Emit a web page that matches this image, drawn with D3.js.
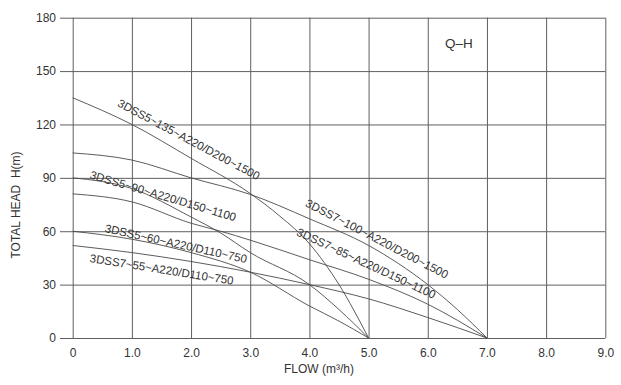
<!DOCTYPE html>
<html><head><meta charset="utf-8">
<script src="https://cdn.jsdelivr.net/npm/d3@7"></script>
<style>
body{margin:0;background:#fff}
svg{display:block;font-family:"Liberation Sans",Arial,Helvetica,sans-serif}
</style>
</head><body>
<svg id="chart" width="621" height="385"></svg>
<script>
// ---- data ----
const flowTicks = [0,1,2,3,4,5,6,7,8,9];
const flowTickLabels = ["0","1.0","2.0","3.0","4.0","5.0","6.0","7.0","8.0","9.0"];
const headTicks = [0,30,60,90,120,150,180];
const headTickLabels = ["0","30","60","90","120","150","180"];

const seriesNames = [
  "3DSS5~135~A220/D200~1500",
  "3DSS7~100~A220/D200~1500",
  "3DSS5~90~A220/D150~1100",
  "3DSS7~85~A220/D150~1100",
  "3DSS5~60~A220/D110~750",
  "3DSS7~55~A220/D110~750"
];
const flow5_135 = [0,1,2,3,3.5,4,4.5,5];
const head5_135 = [135,120,101,81.2,68.5,53,30,0];
const flow7_100 = [0,1,2,3,4,5,6,6.5,7];
const head7_100 = [104,100,90,80.7,67,52,30,16,0];
const flow5_90 = [0,1,2,2.5,3,4,4.5,5];
const head5_90 = [90,84,68,59,48,30,16,0];
const flow7_85 = [0,1,2,2.5,3,4,5,6,7];
const head7_85 = [81,76.5,64.5,60,55,44,33,19,0];
const flow5_60 = [0,1,2,3,4,4.5,5];
const head5_60 = [60,55.5,48,37,18,9.5,0];
const flow7_55 = [0,1,2,3,4,5,6,7];
const head7_55 = [52,48,43,37,30,22,11.5,0];

const flows = [flow5_135, flow7_100, flow5_90, flow7_85, flow5_60, flow7_55];
const heads = [head5_135, head7_100, head5_90, head7_85, head5_60, head7_55];

// label anchor (flow, head) and angle for each curve label
const labelFlow = [1.95, 5.13, 1.52, 4.95, 1.74, 1.50];
const labelHead = [110.8, 55.0, 79.0, 41.2, 52.2, 37.7];
const labelAngle = [28, 27.4, 16.5, 25, 12.4, 9];

// ---- layout ----
const svg = d3.select("#chart");
const x = d3.scaleLinear().domain([0,9]).range([72.7,605.3]);
const y = d3.scaleLinear().domain([0,180]).range([338,17.7]);
const gridColor = "#5f5f5f";
const textColor = "#333";

// horizontal grid + y tick labels
const yAxis = d3.axisLeft(y).tickValues(headTicks)
  .tickFormat((d,i)=>headTickLabels[i])
  .tickSize(-(605.3-60)).tickSizeOuter(0).tickPadding(4);
const gy = svg.append("g").attr("transform","translate(60,0)").call(yAxis);
gy.select(".domain").remove();
gy.selectAll(".tick line").attr("stroke",gridColor).attr("stroke-width",1);
gy.selectAll(".tick text").attr("fill",textColor).attr("font-size",12)
  .attr("font-family","'Liberation Sans',Arial,sans-serif");

// vertical grid + x tick labels
const xAxis = d3.axisBottom(x).tickValues(flowTicks)
  .tickFormat((d,i)=>flowTickLabels[i])
  .tickSize(-(338-17.7)).tickSizeOuter(0).tickPadding(10);
const gx = svg.append("g").attr("transform","translate(0,338)").call(xAxis);
gx.select(".domain").remove();
gx.selectAll(".tick line").attr("stroke",gridColor).attr("stroke-width",1);
gx.selectAll(".tick text").attr("fill",textColor).attr("font-size",12)
  .attr("font-family","'Liberation Sans',Arial,sans-serif");

// curves
const line = d3.line().x(d=>x(d[0])).y(d=>y(d[1])).curve(d3.curveMonotoneX);
seriesNames.forEach((name,i)=>{
  const pts = flows[i].map((f,j)=>[f, heads[i][j]]);
  svg.append("path").datum(pts).attr("d",line)
    .attr("fill","none").attr("stroke","#4a4a4a").attr("stroke-width",0.9);
});

// curve labels
seriesNames.forEach((name,i)=>{
  svg.append("text")
    .attr("transform",`translate(${x(labelFlow[i])},${y(labelHead[i])}) rotate(${labelAngle[i]})`)
    .attr("y",-1.5)
    .attr("text-anchor","middle").attr("dominant-baseline","central")
    .attr("font-size",11.5).attr("fill",textColor).text(name);
});

// title Q-H
svg.append("text").attr("x",459).attr("y",48).attr("text-anchor","middle")
  .attr("font-size",13.5).attr("fill",textColor).text("Q–H");

// axis titles
svg.append("text").attr("x",319).attr("y",373).attr("text-anchor","middle")
  .attr("font-size",12).attr("fill",textColor).text("FLOW (m³/h)");
svg.append("text").attr("transform","translate(20,205) rotate(-90)")
  .attr("text-anchor","middle").attr("font-size",12).attr("fill",textColor)
  .style("white-space","pre")
  .text("TOTAL HEAD  H(m)");
</script>
</body></html>
